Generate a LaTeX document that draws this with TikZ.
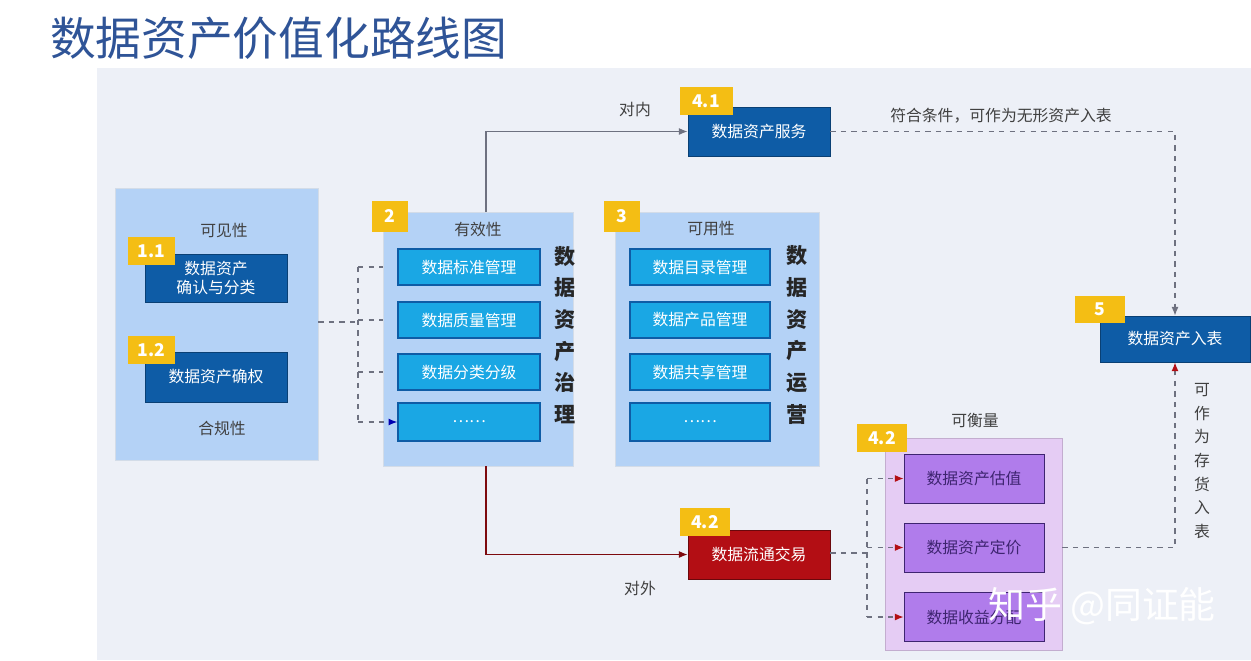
\documentclass[tikz,border=0pt]{standalone}
\usepackage{fontspec}
\setmainfont{Noto Sans CJK SC}
\usepackage{tikz}
\usetikzlibrary{arrows.meta}

\definecolor{slidebg}{HTML}{EDF0F7}
\definecolor{titleblue}{HTML}{2F5497}
\definecolor{grpblue}{HTML}{B4D2F6}
\definecolor{darkblue}{HTML}{0E5CA6}
\definecolor{cyanbox}{HTML}{1AA7E4}
\definecolor{badgegold}{HTML}{F4BE14}
\definecolor{tradered}{HTML}{B30E14}
\definecolor{grppurple}{HTML}{E5CCF4}
\definecolor{boxpurple}{HTML}{B07CEB}
\definecolor{deeppurple}{HTML}{3E2470}
\definecolor{linegray}{HTML}{6E7180}

\tikzset{
	grp/.style={draw=grpblue!80!black!40, fill=grpblue, inner sep=0pt},
	dbox/.style={draw=darkblue!70!black, fill=darkblue, text=white, minimum width=28.4mm, align=center, font=\fontsize{9}{11}\selectfont},
	cbox/.style={draw=darkblue, line width=0.8pt, fill=cyanbox, text=white, minimum height=7.2mm, font=\fontsize{9}{11}\selectfont},
	pbox/.style={draw=deeppurple, fill=boxpurple, text=deeppurple, minimum width=28mm, minimum height=9.8mm, font=\fontsize{9}{11}\selectfont},
	badge/.style={fill=badgegold, text=white, font=\bfseries\fontsize{10}{12}\selectfont, minimum height=5.6mm, inner sep=0pt},
	lbl/.style={text=black!75, font=\fontsize{9}{11}\selectfont},
	vtext/.style={align=center, font=\bfseries\fontsize{12}{18}\selectfont, text=black!85},
	dline/.style={dashed, linegray, line width=0.7pt},
	tip/.style={-{Latex[length=5pt,width=4pt]}}
}

\begin{document}
\begin{tikzpicture}[x=0.2mm, y=-0.2mm]
	\useasboundingbox (0,0) rectangle (1251,660);
	\fill[white] (0,0) rectangle (1251,660);
	\fill[slidebg] (97,68) rectangle (1251,660);
	\node[anchor=west, text=titleblue, font=\fontsize{26}{30}\selectfont] (title) at (44,38) {数据资产价值化路线图};

	% block 1
	\node[grp, minimum width=40.6mm, minimum height=54.4mm] (g1) at (216.5,324) {};
	\node[lbl] (vis) at (224,230) {可见性};
	\node[dbox, minimum height=9.6mm] (b11) at (216,278) {数据资产\\[0pt]确认与分类};
	\node[badge, minimum width=9.4mm] (n11) at (151.5,251) {1.1};
	\node[dbox, minimum height=10mm] (b12) at (216,377) {数据资产确权};
	\node[badge, minimum width=9.4mm] (n12) at (151.5,350) {1.2};
	\node[lbl] (comp) at (222,428) {合规性};

	% block 2
	\node[grp, minimum width=38mm, minimum height=50.8mm] (g2) at (478,339) {};
	\node[badge, minimum width=7.2mm, minimum height=6.2mm] (n2) at (390,216) {2};
	\node[lbl] (eff) at (478,229) {有效性};
	\node[cbox, minimum width=28.4mm] (s1) at (469,267) {数据标准管理};
	\node[cbox, minimum width=28.4mm] (s2) at (469,320) {数据质量管理};
	\node[cbox, minimum width=28.4mm] (s3) at (469,372) {数据分类分级};
	\node[cbox, minimum width=28.4mm, minimum height=7.6mm] (s4) at (469,422) {……};
	\node[vtext] (gov) at (565,335) {数\\据\\资\\产\\治\\理};

	% block 3
	\node[grp, minimum width=40.8mm, minimum height=50.8mm] (g3) at (717,339) {};
	\node[badge, minimum width=7.2mm, minimum height=6.2mm] (n3) at (622,216) {3};
	\node[lbl] (use) at (711,229) {可用性};
	\node[cbox, minimum width=28mm] (o1) at (700,267) {数据目录管理};
	\node[cbox, minimum width=28mm] (o2) at (700,320) {数据产品管理};
	\node[cbox, minimum width=28mm] (o3) at (700,372) {数据共享管理};
	\node[cbox, minimum width=28mm, minimum height=7.6mm] (o4) at (700,422) {……};
	\node[vtext] (ops) at (797,335) {数\\据\\资\\产\\运\\营};

	% services, listing, trading
	\node[dbox, minimum height=9.8mm] (svc) at (759,131.5) {数据资产服务};
	\node[badge, minimum width=10.6mm] (n41) at (706,101) {4.1};
	\node[lbl] (inner) at (635,110) {对内};
	\node[dbox, minimum width=30mm, minimum height=9.2mm] (bs) at (1175,339) {数据资产入表};
	\node[badge, minimum width=10mm, minimum height=5.4mm] (n5) at (1100,309.5) {5};
	\node[lbl] (intang) at (1001,116) {符合条件，可作为无形资产入表};
	\node[lbl, align=center, font=\fontsize{9}{13.5}\selectfont] (stock) at (1202,461) {可\\作\\为\\存\\货\\入\\表};
	\node[dbox, draw=tradered!60!black, fill=tradered, minimum height=9.8mm] (trd) at (759,554.5) {数据流通交易};
	\node[badge, minimum width=10mm] (n42a) at (705,522) {4.2};
	\node[lbl] (outer) at (640,588) {对外};

	% block 4.2
	\node[fill=grppurple, draw=grppurple!85!black, minimum width=35.4mm, minimum height=42.4mm] (g4) at (973.5,544) {};
	\node[lbl] (meas) at (975,420) {可衡量};
	\node[badge, minimum width=10mm] (n42b) at (882,438) {4.2};
	\node[pbox] (p1) at (974,478.5) {数据资产估值};
	\node[pbox] (p2) at (974,547.5) {数据资产定价};
	\node[pbox] (p3) at (974,617) {数据收益分配};

	% connectors
	\coordinate (j1) at (358,322);
	\coordinate (up) at (486,212);
	\coordinate (dn) at (486,466);
	\coordinate (j2) at (867,553);
	\draw[dline] (g1.east |- j1) -- (j1);
	\draw[dline] (j1 |- s1) -- (j1 |- s4);
	\draw[dline] (j1 |- s1) -- (g2.west |- s1);
	\draw[dline] (j1 |- s2) -- (g2.west |- s2);
	\draw[dline] (j1 |- s3) -- (g2.west |- s3);
	\draw[dline, -{Latex[length=5pt,width=4pt,blue!70!black]}] (j1 |- s4) -- (s4.west);
	\draw[linegray, line width=0.7pt, tip] (up) |- (svc.west);
	\draw[tradered!70!black, line width=0.7pt, tip] (dn) |- (trd.west);
	\draw[dline, tip] (svc.east) -| (bs.north);
	\draw[dline] (trd.east |- j2) -- (j2);
	\draw[dline] (j2 |- p1) -- (j2 |- p3);
	\foreach \p in {p1,p2,p3}
		\draw[dline, -{Latex[length=5pt,width=4pt,tradered]}] (j2 |- \p) -- (\p.west);
	\draw[dline, -{Latex[length=5pt,width=4pt,tradered]}] (g4.east |- p2) -| (bs.south);

	\node[text=white, font=\fontsize{21}{24}\selectfont] (mark) at (1102,606) {知乎 @同证能};
\end{tikzpicture}
\end{document}
